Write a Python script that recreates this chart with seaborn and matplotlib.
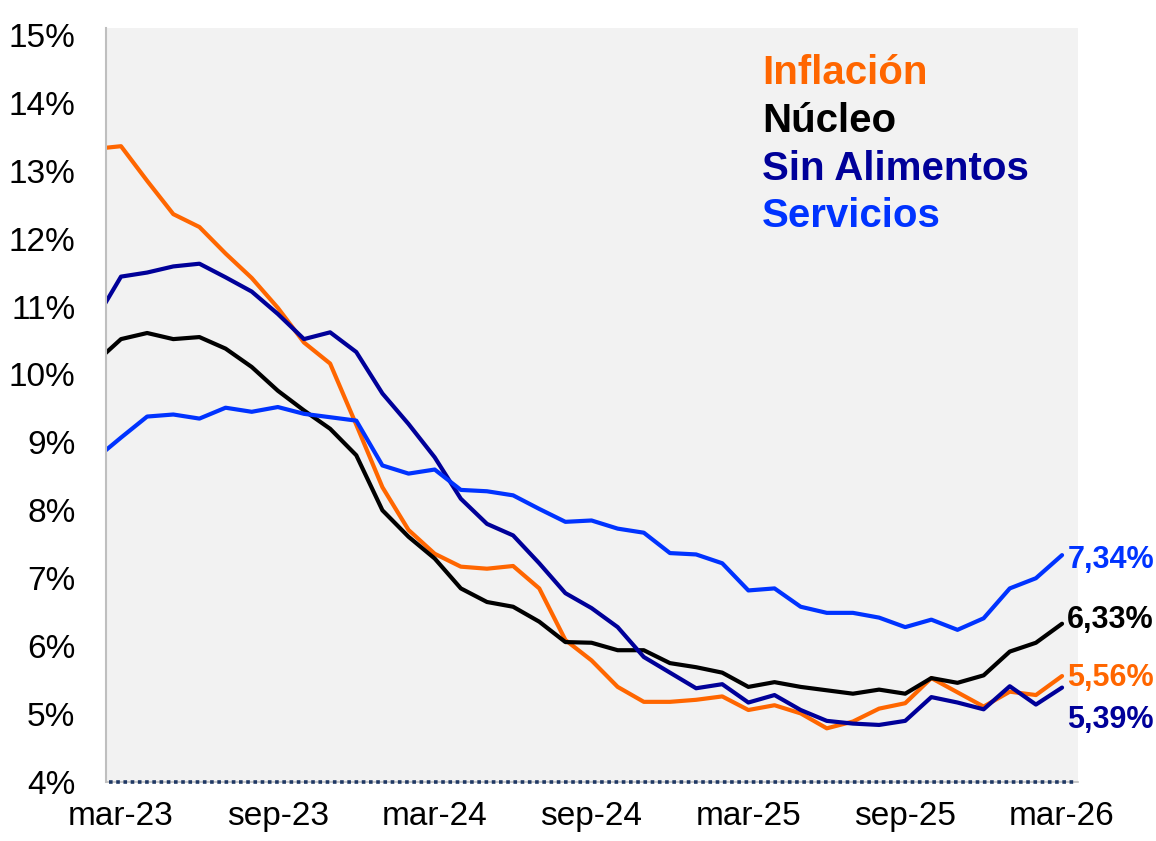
import numpy as np
import pandas as pd
import seaborn as sns
import matplotlib
matplotlib.use("Agg")
import matplotlib.pyplot as plt

# ---- data (monthly, feb-23 .. mar-26) ----
month_idx = list(range(-1, 37))
tick_pos = [0, 6, 12, 18, 24, 30, 36]
tick_labels = ["mar-23", "sep-23", "mar-24", "sep-24", "mar-25", "sep-25", "mar-26"]

inflacion = [13.32, 13.36, 12.85, 12.36, 12.17, 11.78, 11.42, 10.98, 10.47, 10.16,
             9.26, 8.34, 7.71, 7.36, 7.17, 7.14, 7.18, 6.85, 6.09, 5.79,
             5.40, 5.18, 5.18, 5.21, 5.26, 5.06, 5.13, 5.01, 4.79, 4.89,
             5.08, 5.16, 5.53, 5.32, 5.11, 5.33, 5.28, 5.56]
nucleo = [10.17, 10.52, 10.61, 10.52, 10.55, 10.38, 10.11, 9.76, 9.47, 9.20,
          8.81, 8.00, 7.61, 7.29, 6.85, 6.65, 6.58, 6.36, 6.06, 6.05,
          5.94, 5.94, 5.75, 5.69, 5.61, 5.40, 5.47, 5.40, 5.35, 5.30,
          5.36, 5.30, 5.53, 5.46, 5.57, 5.92, 6.05, 6.33]
sin_alimentos = [10.79, 11.44, 11.50, 11.59, 11.63, 11.43, 11.22, 10.89, 10.52, 10.62,
                 10.33, 9.72, 9.27, 8.78, 8.17, 7.80, 7.63, 7.22, 6.78, 6.56,
                 6.28, 5.84, 5.61, 5.38, 5.44, 5.17, 5.28, 5.06, 4.90, 4.86,
                 4.84, 4.90, 5.25, 5.17, 5.07, 5.41, 5.14, 5.39]
servicios = [8.75, 9.07, 9.38, 9.41, 9.35, 9.51, 9.45, 9.52, 9.42, 9.37,
             9.32, 8.66, 8.54, 8.60, 8.30, 8.28, 8.22, 8.02, 7.83, 7.85,
             7.73, 7.67, 7.37, 7.35, 7.22, 6.82, 6.85, 6.58, 6.49, 6.49,
             6.42, 6.28, 6.39, 6.24, 6.41, 6.85, 7.00, 7.34]

series_names = ["Inflación", "Núcleo", "Sin Alimentos", "Servicios"]
series_values = [inflacion, nucleo, sin_alimentos, servicios]
colors = ["#ff6600", "#000000", "#000099", "#0033ff"]
# baseline offsets of end labels relative to last value (layout only)
label_y_offsets = [-0.15, -0.07, -0.60, -0.19]

df = pd.concat([
    pd.DataFrame({"mes": month_idx, "valor": vals, "serie": name})
    for name, vals in zip(series_names, series_values)
], ignore_index=True)

# ---- style ----
sns.set_style("white")
plt.rcParams["font.family"] = ["Liberation Sans", "DejaVu Sans"]
plt.rcParams["text.color"] = "black"

fig = plt.figure(figsize=(11.56, 8.41), dpi=100)
ax = fig.add_axes([106 / 1156, 1 - 782 / 841, (1078 - 106) / 1156, (782 - 28) / 841])
ax.set_facecolor("#f2f2f2")

sns.lineplot(data=df, x="mes", y="valor", hue="serie", hue_order=series_names,
             palette=dict(zip(series_names, colors)), linewidth=3.0,
             legend=False, ax=ax)

ax.set_xlim(-0.574, 36.61)
ax.set_ylim(4, 15.1)
ax.set_yticks(range(4, 16))
ax.set_yticklabels([f"{v}%" for v in range(4, 16)])
ax.set_xticks(tick_pos)
ax.set_xticklabels(tick_labels)
ax.set_xlabel("")
ax.set_ylabel("")
ax.tick_params(axis="y", length=0, pad=22, labelsize=24, labelcolor="black")
ax.tick_params(axis="x", length=0, pad=14, labelsize=24, labelcolor="black")

for s in ["top", "right"]:
    ax.spines[s].set_visible(False)
ax.spines["left"].set_color("#bfbfbf")
ax.spines["left"].set_linewidth(1.5)
ax.spines["bottom"].set_color("#bfbfbf")
ax.spines["bottom"].set_linewidth(1.2)
ax.spines["bottom"].set_zorder(1)

ax.axhline(4, color="#1f3864", linestyle=(0, (1, 1)), linewidth=2.6, zorder=6,
           xmin=0.003, xmax=0.998, clip_on=False)

# legend-like colored titles
for k, (name, c) in enumerate(zip(series_names, colors)):
    fig.text(762 / 1156, 1 - (83.5 + 48 * k) / 841, name, color=c,
             fontsize=29, fontweight="bold", ha="left", va="baseline")

# end labels
for name, vals, c, off in zip(series_names, series_values, colors, label_y_offsets):
    last = vals[-1]
    txt = f"{last:.2f}".replace(".", ",") + "%"
    ax.text(36.2, last + off, txt, color=c, fontweight="bold", fontsize=22,
            ha="left", va="baseline", clip_on=False)

fig.savefig("out.png", dpi=100)
